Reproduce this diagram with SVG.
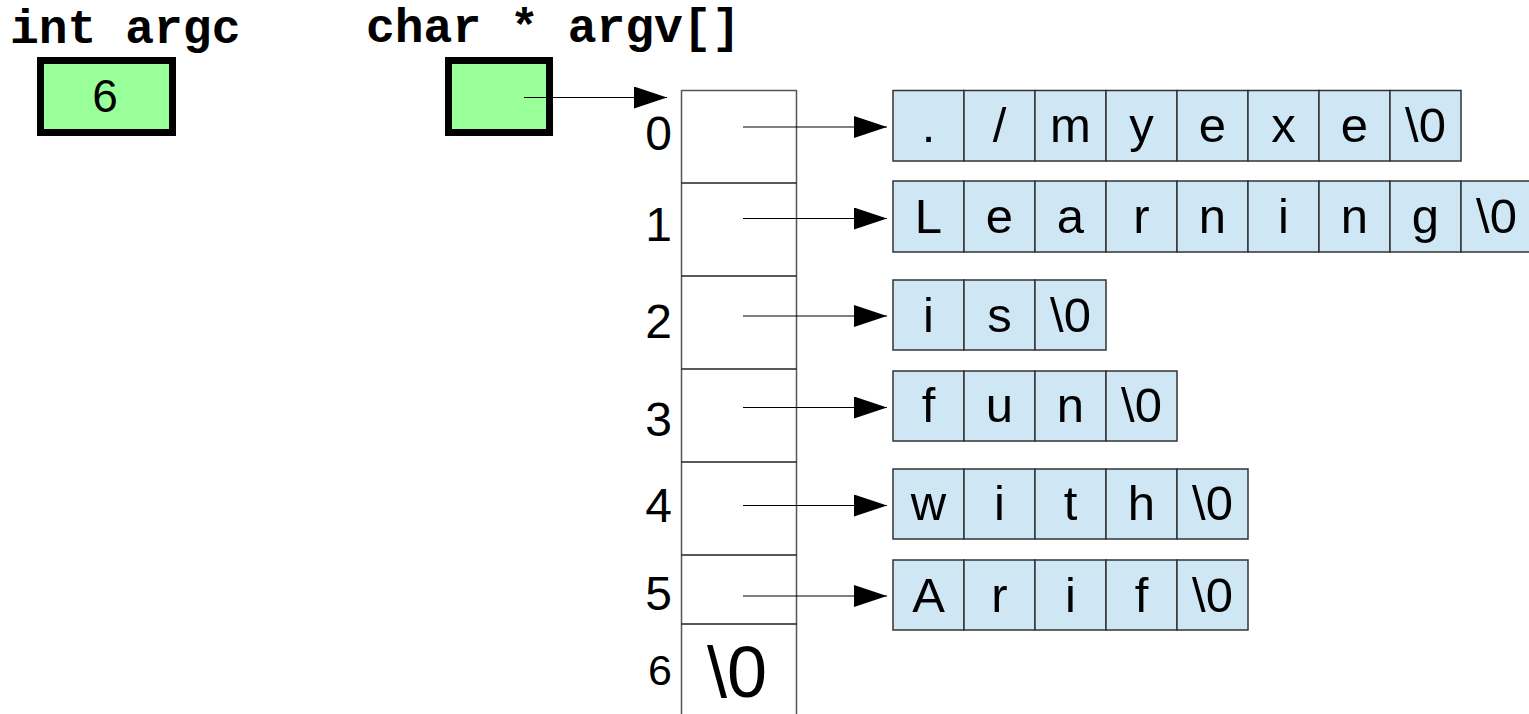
<svg xmlns="http://www.w3.org/2000/svg" width="1529" height="714" viewBox="0 0 1529 714">
<style>
.hdr{font-family:"Liberation Mono","Courier New",monospace;font-weight:bold;font-size:48px;fill:#000}
.val{font-family:"Liberation Sans",Arial,sans-serif;font-size:46px;fill:#000;text-anchor:middle}
.idx{font-family:"Liberation Sans",Arial,sans-serif;font-size:48px;fill:#000;text-anchor:end}
.ch{font-family:"Liberation Sans",Arial,sans-serif;font-size:49px;fill:#000;text-anchor:middle}
.cell{fill:#cfe7f5;stroke:#333;stroke-width:1.5}
.var{fill:#99ff99;stroke:#000;stroke-width:7}
.col{fill:none;stroke:#555;stroke-width:1.5}
.conn{stroke:#000;stroke-width:1.2;fill:none}
</style>
<defs>
<marker id="ah" markerUnits="userSpaceOnUse" markerWidth="34" markerHeight="24" refX="33" refY="11" orient="auto">
<path d="M0,0 L33,11 L0,22 Z" fill="#000"/>
</marker>
</defs>
<rect width="1529" height="714" fill="#fff"/>

<g id="argc">
<text class="hdr" x="10" y="43">int argc</text>
<rect class="var" x="40.5" y="60.5" width="132" height="72"/>
<text class="val" x="105" y="112">6</text>
</g>

<g id="argv">
<text class="hdr" x="366" y="42">char * argv[]</text>
<rect class="var" x="448.5" y="60.5" width="101" height="72"/>
</g>

<g id="array">
<line class="col" x1="681.5" y1="90" x2="681.5" y2="714"/>
<line class="col" x1="796.5" y1="90" x2="796.5" y2="714"/>
<line class="col" x1="681.5" y1="90.5" x2="796.5" y2="90.5"/>
<g stroke="#222" stroke-width="1.5">
<line x1="681.5" y1="183" x2="796.5" y2="183"/>
<line x1="681.5" y1="276" x2="796.5" y2="276"/>
<line x1="681.5" y1="369" x2="796.5" y2="369"/>
<line x1="681.5" y1="462" x2="796.5" y2="462"/>
<line x1="681.5" y1="555" x2="796.5" y2="555"/>
<line x1="681.5" y1="624" x2="796.5" y2="624"/>
</g>
<text class="idx" x="672" y="150">0</text>
<text class="idx" x="672" y="241">1</text>
<text class="idx" x="672" y="338">2</text>
<text class="idx" x="672" y="436">3</text>
<text class="idx" x="672" y="522">4</text>
<text class="idx" x="672" y="610">5</text>
<text class="idx" x="672" y="685" style="font-size:43px">6</text>
<text class="ch" x="737" y="697" style="font-size:72px">\0</text>
</g>

<g id="str0">
<rect class="cell" x="893" y="90.5" width="71" height="70.5"/>
<rect class="cell" x="964" y="90.5" width="71" height="70.5"/>
<rect class="cell" x="1035" y="90.5" width="71" height="70.5"/>
<rect class="cell" x="1106" y="90.5" width="71" height="70.5"/>
<rect class="cell" x="1177" y="90.5" width="71" height="70.5"/>
<rect class="cell" x="1248" y="90.5" width="71" height="70.5"/>
<rect class="cell" x="1319" y="90.5" width="71" height="70.5"/>
<rect class="cell" x="1390" y="90.5" width="71" height="70.5"/>
<text class="ch" x="928.5" y="142">.</text>
<text class="ch" x="999.5" y="142">/</text>
<text class="ch" x="1070.5" y="142">m</text>
<text class="ch" x="1141.5" y="142">y</text>
<text class="ch" x="1212.5" y="142">e</text>
<text class="ch" x="1283.5" y="142">x</text>
<text class="ch" x="1354.5" y="142">e</text>
<text class="ch" x="1425.5" y="142">\0</text>
</g>

<g id="str1">
<rect class="cell" x="893" y="181" width="71" height="71"/>
<rect class="cell" x="964" y="181" width="71" height="71"/>
<rect class="cell" x="1035" y="181" width="71" height="71"/>
<rect class="cell" x="1106" y="181" width="71" height="71"/>
<rect class="cell" x="1177" y="181" width="71" height="71"/>
<rect class="cell" x="1248" y="181" width="71" height="71"/>
<rect class="cell" x="1319" y="181" width="71" height="71"/>
<rect class="cell" x="1390" y="181" width="71" height="71"/>
<rect class="cell" x="1461" y="181" width="71" height="71"/>
<text class="ch" x="928.5" y="233">L</text>
<text class="ch" x="999.5" y="233">e</text>
<text class="ch" x="1070.5" y="233">a</text>
<text class="ch" x="1141.5" y="233">r</text>
<text class="ch" x="1212.5" y="233">n</text>
<text class="ch" x="1283.5" y="233">i</text>
<text class="ch" x="1354.5" y="233">n</text>
<text class="ch" x="1425.5" y="233">g</text>
<text class="ch" x="1496.5" y="233">\0</text>
</g>

<g id="str2">
<rect class="cell" x="893" y="280" width="71" height="70"/>
<rect class="cell" x="964" y="280" width="71" height="70"/>
<rect class="cell" x="1035" y="280" width="71" height="70"/>
<text class="ch" x="928.5" y="332">i</text>
<text class="ch" x="999.5" y="332">s</text>
<text class="ch" x="1070.5" y="332">\0</text>
</g>

<g id="str3">
<rect class="cell" x="893" y="371" width="71" height="70"/>
<rect class="cell" x="964" y="371" width="71" height="70"/>
<rect class="cell" x="1035" y="371" width="71" height="70"/>
<rect class="cell" x="1106" y="371" width="71" height="70"/>
<text class="ch" x="928.5" y="422">f</text>
<text class="ch" x="999.5" y="422">u</text>
<text class="ch" x="1070.5" y="422">n</text>
<text class="ch" x="1141.5" y="422">\0</text>
</g>

<g id="str4">
<rect class="cell" x="893" y="469" width="71" height="70"/>
<rect class="cell" x="964" y="469" width="71" height="70"/>
<rect class="cell" x="1035" y="469" width="71" height="70"/>
<rect class="cell" x="1106" y="469" width="71" height="70"/>
<rect class="cell" x="1177" y="469" width="71" height="70"/>
<text class="ch" x="928.5" y="520">w</text>
<text class="ch" x="999.5" y="520">i</text>
<text class="ch" x="1070.5" y="520">t</text>
<text class="ch" x="1141.5" y="520">h</text>
<text class="ch" x="1212.5" y="520">\0</text>
</g>

<g id="str5">
<rect class="cell" x="893" y="560" width="71" height="70"/>
<rect class="cell" x="964" y="560" width="71" height="70"/>
<rect class="cell" x="1035" y="560" width="71" height="70"/>
<rect class="cell" x="1106" y="560" width="71" height="70"/>
<rect class="cell" x="1177" y="560" width="71" height="70"/>
<text class="ch" x="928.5" y="612">A</text>
<text class="ch" x="999.5" y="612">r</text>
<text class="ch" x="1070.5" y="612">i</text>
<text class="ch" x="1141.5" y="612">f</text>
<text class="ch" x="1212.5" y="612">\0</text>
</g>

<g id="connectors">
<line class="conn" x1="524" y1="97.5" x2="667" y2="97.5" marker-end="url(#ah)"/>
<line class="conn" x1="743" y1="127" x2="887" y2="127" marker-end="url(#ah)"/>
<line class="conn" x1="743" y1="218.5" x2="887" y2="218.5" marker-end="url(#ah)"/>
<line class="conn" x1="743" y1="316" x2="887" y2="316" marker-end="url(#ah)"/>
<line class="conn" x1="743" y1="407.5" x2="887" y2="407.5" marker-end="url(#ah)"/>
<line class="conn" x1="743" y1="505.5" x2="887" y2="505.5" marker-end="url(#ah)"/>
<line class="conn" x1="743" y1="596" x2="887" y2="596" marker-end="url(#ah)"/>
</g>
</svg>
